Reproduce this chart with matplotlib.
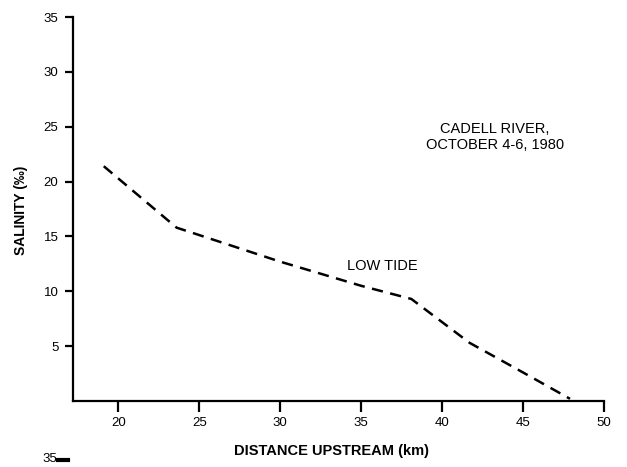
import matplotlib
matplotlib.use("Agg")
import matplotlib.pyplot as plt

# Salinity along the Cadell River at low tide
distance_km = [19.1, 23.6, 30.0, 35.0, 38.1, 41.7, 45.0, 47.9]
salinity = [21.4, 15.8, 12.7, 10.5, 9.3, 5.3, 2.6, 0.2]

x_ticks = [20, 25, 30, 35, 40, 45, 50]
y_ticks = [5, 10, 15, 20, 25, 30, 35]

plt.rcParams["font.family"] = ["Liberation Sans", "DejaVu Sans"]

W, H = 627, 467
fig = plt.figure(figsize=(W / 100, H / 100), dpi=100)
ax = fig.add_axes([73 / W, 1 - 401 / H, (604 - 73) / W, (401 - 17) / H])

ax.plot(distance_km, salinity, color="black", lw=1.8,
        linestyle=(0, (4.5, 3.0)), solid_capstyle="butt")

ax.set_xlim(17.2, 50)
ax.set_ylim(0, 35)
ax.set_xticks(x_ticks)
ax.set_yticks(y_ticks)

for side in ("top", "right"):
    ax.spines[side].set_visible(False)
for side in ("left", "bottom"):
    ax.spines[side].set_linewidth(1.6)
    ax.spines[side].set_color("black")

ax.tick_params(axis="both", direction="out", width=1.6,
               labelsize=9.5, colors="black")
ax.tick_params(axis="y", length=6, pad=4.5)
ax.tick_params(axis="x", length=8, pad=3.5)

fig.text(21 / W, 1 - 210 / H, "SALINITY (‰)", rotation=90, fontsize=10,
         fontweight="bold", ha="center", va="center")
fig.text(331 / W, 1 - 451 / H, "DISTANCE UPSTREAM (km)", fontsize=10.5,
         fontweight="bold", ha="center", va="center")

fig.text(495 / W, 1 - 129 / H, "CADELL RIVER,", fontsize=10.5,
         ha="center", va="center")
fig.text(495 / W, 1 - 145 / H, "OCTOBER 4-6, 1980", fontsize=10.5,
         ha="center", va="center")
fig.text(382 / W, 1 - 266 / H, "LOW TIDE", fontsize=10.5,
         ha="center", va="center")

# top of the next panel's y-axis
fig.text(42 / W, 1 - 465 / H, "35", fontsize=9.5, ha="left", va="bottom")
fig.add_artist(plt.Line2D([58 / W, 68 / W], [1 - 460 / H, 1 - 460 / H],
                          color="black", lw=3, transform=fig.transFigure))

fig.savefig("out.png", dpi=100, facecolor="white")
